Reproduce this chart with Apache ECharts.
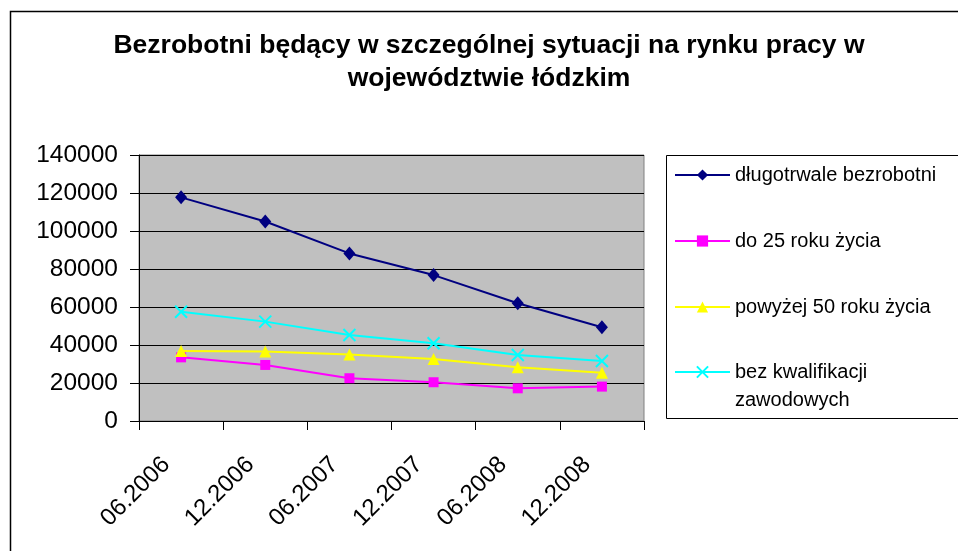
<!DOCTYPE html>
<html>
<head>
<meta charset="utf-8">
<script src="https://cdn.jsdelivr.net/npm/echarts@6/dist/echarts.min.js"></script>
<style>
html,body{margin:0;padding:0;background:#fff;}
#chart{width:958px;height:551px;}
</style>
</head>
<body>
<div id="chart"></div>
<script>
const titleText = 'Bezrobotni będący w szczególnej sytuacji na rynku pracy w\nwojewództwie łódzkim';
const categories = ['06.2006', '12.2006', '06.2007', '12.2007', '06.2008', '12.2008'];
const seriesNames = ['długotrwale bezrobotni', 'do 25 roku życia', 'powyżej 50 roku życia', 'bez kwalifikacji\nzawodowych'];
const longTerm = [117700, 105000, 88200, 76800, 62000, 49300];
const under25 = [33500, 29500, 22500, 20400, 17200, 18100];
const over50 = [36800, 36600, 35000, 32600, 28300, 25400];
const noQualif = [57500, 52300, 45300, 40900, 34700, 31600];
const yTicks = {min: 0, max: 140000, interval: 20000};

const FONT = '"Liberation Sans", Arial, sans-serif';
const crossPath = 'path://M0,0L10,10M10,0L0,10';

const chart = echarts.init(document.getElementById('chart'), null, {renderer: 'canvas'});

function mkSeries(name, data, color, symbol, size, extra) {
  return Object.assign({
    name: name,
    type: 'line',
    data: data,
    symbol: symbol,
    symbolSize: size,
    showAllSymbol: true,
    lineStyle: {color: color, width: 2},
    itemStyle: {color: color, borderColor: color, borderWidth: 0},
    emphasis: {disabled: true},
    animation: false,
    z: 3
  }, extra || {});
}

const option = {
  animation: false,
  backgroundColor: '#ffffff',
  title: {
    text: titleText,
    left: 489,
    top: 29,
    padding: 0,
    textAlign: 'center',
    textStyle: {fontFamily: FONT, fontSize: 26.5, fontWeight: 'bold', color: '#000', lineHeight: 33}
  },
  legend: [
    {
      orient: 'vertical',
      left: 674,
      top: 161,
      padding: 0,
      itemWidth: 55,
      itemHeight: 14,
      itemGap: 38,
      textStyle: {fontFamily: FONT, fontSize: 20, color: '#000', lineHeight: 28},
      data: [seriesNames[0], seriesNames[1], seriesNames[2]],
      selectedMode: false
    },
    {
      orient: 'vertical',
      left: 674,
      top: 330,
      padding: 0,
      itemWidth: 55,
      itemHeight: 14,
      textStyle: {fontFamily: FONT, fontSize: 20, color: '#000', lineHeight: 28},
      formatter: function (name) { return ' \n' + name; },
      data: [seriesNames[3]],
      selectedMode: false
    }
  ],
  grid: {
    left: 139, top: 155, width: 505, height: 266,
    show: true, backgroundColor: '#C0C0C0', borderColor: '#808080', borderWidth: 1
  },
  xAxis: {
    type: 'category',
    data: categories,
    boundaryGap: true,
    axisLine: {show: true, lineStyle: {color: '#000', width: 1}},
    axisTick: {show: true, inside: false, length: 9, lineStyle: {color: '#000'}},
    axisLabel: {
      rotate: 45, fontFamily: FONT, fontSize: 24, color: '#000', margin: 25,
      padding: [0, 21, 0, 0], interval: 0
    },
    splitLine: {show: false}
  },
  yAxis: {
    type: 'value',
    min: yTicks.min, max: yTicks.max, interval: yTicks.interval,
    axisLine: {show: true, lineStyle: {color: '#000', width: 1}},
    axisTick: {show: true, inside: false, length: 9, lineStyle: {color: '#000'}},
    axisLabel: {fontFamily: FONT, fontSize: 24.5, color: '#000', margin: 21, formatter: function (v) { return String(v); }},
    splitLine: {show: true, lineStyle: {color: '#000', width: 1}}
  },
  graphic: [
    {type: 'rect', shape: {x: 10.5, y: 11.5, width: 1000, height: 600}, style: {fill: 'none', stroke: '#000', lineWidth: 1.5}, silent: true, z: -1},
    {type: 'rect', shape: {x: 666.5, y: 155.5, width: 400, height: 263}, style: {fill: 'none', stroke: '#000', lineWidth: 1}, silent: true, z: -1}
  ],
  series: [
    mkSeries(seriesNames[0], longTerm, '#000080', 'diamond', [12, 14]),
    mkSeries(seriesNames[1], under25, '#FF00FF', 'rect', 10),
    mkSeries(seriesNames[2], over50, '#FFFF00', 'triangle', 12),
    mkSeries(seriesNames[3], noQualif, '#00FFFF', crossPath, 12, {itemStyle: {color: '#00FFFF', borderColor: '#00FFFF', borderWidth: 2}})
  ]
};
chart.setOption(option);
</script>
</body>
</html>
